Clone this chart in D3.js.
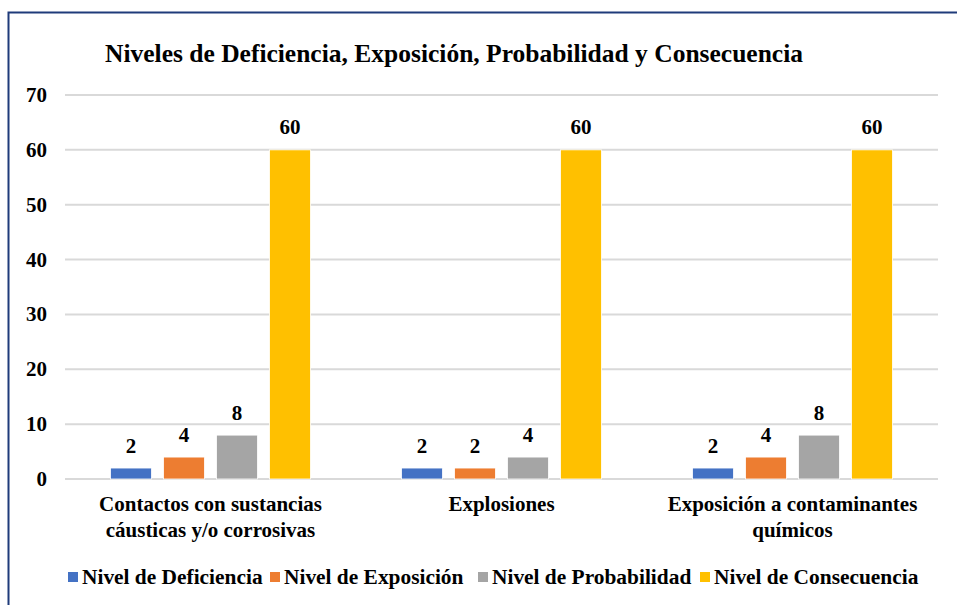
<!DOCTYPE html>
<html><head><meta charset="utf-8">
<script src="https://cdn.jsdelivr.net/npm/d3@7"></script>
<style>
html,body{margin:0;padding:0;background:#fff;}
</style></head>
<body>
<svg id="c" width="957" height="605"></svg>
<script>
const title = "Niveles de Deficiencia, Exposición, Probabilidad y Consecuencia";
const categories = [
  ["Contactos con sustancias", "cáusticas y/o corrosivas"],
  ["Explosiones"],
  ["Exposición a contaminantes", "químicos"]
];
const seriesNames = ["Nivel de Deficiencia", "Nivel de Exposición", "Nivel de Probabilidad", "Nivel de Consecuencia"];
const seriesColors = ["#4472C4", "#ED7D31", "#A5A5A5", "#FFC000"];
const deficiencia = [2, 2, 2];
const exposicion = [4, 2, 4];
const probabilidad = [8, 4, 8];
const consecuencia = [60, 60, 60];
const yTicks = [0, 10, 20, 30, 40, 50, 60, 70];

(function(){
const seriesValues = [deficiencia, exposicion, probabilidad, consecuencia];
const svg = d3.select("#c");

svg.append("path").attr("d", "M8.5,605 L8.5,12.5 L957,12.5")
  .attr("fill", "none").attr("stroke", "#1F3B7A").attr("stroke-width", 2);

const pLeft = 65, pRight = 938, pTop = 95, pBottom = 479;
const y = d3.scaleLinear().domain([0, 70]).range([pBottom, pTop]);
const x0 = d3.scaleBand().domain(d3.range(categories.length)).range([pLeft, pRight]);
const groupW = 200;
const x1 = d3.scaleBand().domain(d3.range(seriesNames.length)).range([-groupW/2, groupW/2]).paddingInner(12/53).paddingOuter(0);

svg.append("g").selectAll("line").data(yTicks).join("line")
  .attr("x1", pLeft).attr("x2", pRight)
  .attr("y1", d => y(d)).attr("y2", d => y(d))
  .attr("stroke", "#D9D9D9").attr("stroke-width", 2);

svg.append("g").selectAll("text").data(yTicks).join("text")
  .attr("x", 47).attr("y", d => y(d) + 7)
  .attr("text-anchor", "end").attr("font-size", 21).text(d => d);

svg.append("text").attr("x", 454).attr("y", 62).attr("text-anchor", "middle")
  .attr("font-size", 25.5).text(title);

const groups = svg.append("g").selectAll("g").data(categories).join("g")
  .attr("transform", (d, i) => `translate(${x0(i) + x0.bandwidth()/2},0)`);
groups.each(function(cat, ci) {
  const g = d3.select(this);
  seriesValues.forEach((vals, si) => {
    const v = vals[ci];
    g.append("rect").attr("x", x1(si)).attr("width", x1.bandwidth())
      .attr("y", y(v)).attr("height", y(0) - y(v))
      .attr("fill", seriesColors[si]).attr("stroke", "#fff").attr("stroke-width", 0.8);
    g.append("text").attr("x", x1(si) + x1.bandwidth()/2).attr("y", y(v) - 15.5)
      .attr("text-anchor", "middle").attr("font-size", 21).text(v);
  });
  const t = g.append("text").attr("text-anchor", "middle").attr("font-size", 21);
  cat.forEach((line, li) => {
    t.append("tspan").attr("x", 0).attr("y", 511 + li * 26).text(line);
  });
});

const legendX = [68, 270, 478, 700];
const lg = svg.append("g").selectAll("g").data(seriesNames).join("g")
  .attr("transform", (d, i) => `translate(${legendX[i]},577)`);
lg.append("rect").attr("x", 0).attr("y", -5).attr("width", 10).attr("height", 10)
  .attr("fill", (d, i) => seriesColors[i]);
lg.append("text").attr("x", 14).attr("y", 7)
  .attr("font-size", 21.4).text(d => d);

svg.selectAll("text").attr("font-family", "'Liberation Serif'").attr("font-weight", "bold").attr("fill", "#000");
})();
</script>
</body></html>
